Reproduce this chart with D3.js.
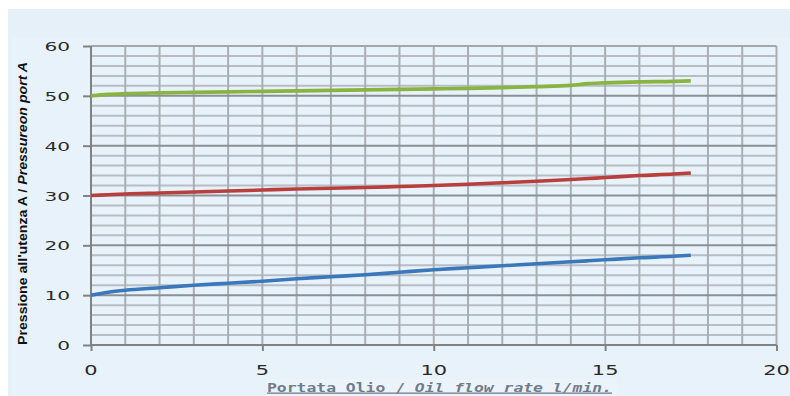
<!DOCTYPE html>
<html><head><meta charset="utf-8">
<script src="https://cdn.jsdelivr.net/npm/d3@7/dist/d3.min.js"></script>
<style>body{margin:0;background:#fff}svg{display:block}</style>
</head><body><svg id="c" width="790" height="396"></svg>
<script>
const xTicks = [0, 5, 10, 15, 20];
const yTicks = [0, 10, 20, 30, 40, 50, 60];
const flow = [0, 0.5, 1, 2, 3, 4, 5, 6, 7, 8, 9, 10, 11, 12, 13, 14, 14.5, 15, 16, 17, 17.5];
const seriesGreen = [50.0, 50.3, 50.45, 50.6, 50.7, 50.8, 50.9, 51.0, 51.1, 51.2, 51.3, 51.4, 51.5, 51.65, 51.85, 52.1, 52.45, 52.6, 52.8, 52.9, 53.0];
const seriesRed = [30.0, 30.15, 30.3, 30.5, 30.7, 30.9, 31.1, 31.3, 31.45, 31.6, 31.8, 32.0, 32.25, 32.55, 32.85, 33.2, 33.4, 33.6, 34.0, 34.3, 34.5];
const seriesBlue = [10.0, 10.6, 11.0, 11.5, 12.0, 12.4, 12.8, 13.3, 13.7, 14.1, 14.6, 15.1, 15.5, 15.9, 16.3, 16.7, 16.9, 17.1, 17.5, 17.8, 18.0];
const seriesNames = ["green", "red", "blue"];
const seriesColors = ["#8ab441", "#b93f3d", "#3b77bb"];
const yTitleIt = "Pressione all'utenza A / ";
const yTitleEn = "Pressureon port A";
const xTitleIt = "Portata Olio / ";
const xTitleEn = "Oil flow rate l/min.";

const svg = d3.select("#c");
svg.append("rect").attr("x", 8).attr("y", 9).attr("width", 782).attr("height", 387).attr("fill", "#e6f0f9");
svg.append("rect").attr("x", 12).attr("y", 37).attr("width", 778).attr("height", 359).attr("fill", "#e8f2fb");
svg.append("rect").attr("x", 267).attr("y", 379).attr("width", 350).attr("height", 17).attr("fill", "#ecf4fb");

const x = d3.scaleLinear().domain([0, 20]).range([91, 776.5]);
const y = d3.scaleLinear().domain([0, 60]).range([345, 46]);

// grid
const g = svg.append("g");
g.selectAll("line.h").data(d3.range(2, 60, 2).filter(v => v % 10 !== 0)).join("line")
  .attr("x1", x(0)).attr("x2", x(20)).attr("y1", d => y(d)).attr("y2", d => y(d))
  .attr("stroke", "#b7bdc3").attr("stroke-width", 2);
g.selectAll("line.v").data(d3.range(1, 21)).join("line")
  .attr("x1", d => x(d)).attr("x2", d => x(d)).attr("y1", y(60)).attr("y2", y(0))
  .attr("stroke", "#a9aeb3").attr("stroke-width", 2);
g.selectAll("line.hm").data([10, 20, 30, 40, 50, 60]).join("line")
  .attr("x1", x(0)).attr("x2", x(20)).attr("y1", d => y(d)).attr("y2", d => y(d))
  .attr("stroke", d => d === 60 ? "#a3a8ad" : "#8b9095").attr("stroke-width", 2);

// axes
const yAxis = svg.append("g").attr("transform", `translate(${x(0)},0)`)
  .call(d3.axisLeft(y).tickValues(yTicks).tickSize(8).tickFormat(""));
const xAxis = svg.append("g").attr("transform", `translate(0,${y(0)})`)
  .call(d3.axisBottom(x).tickValues(xTicks).tickSize(6).tickFormat(""));
[yAxis, xAxis].forEach(a => { a.selectAll("path,line").attr("stroke", "#828282").attr("stroke-width", 2); });
yAxis.select("path").attr("d", `M0,${y(60)}V${y(0)}`);
xAxis.select("path").attr("d", `M${x(0)},0H${x(20)}`);

// tick labels (stretched like the source)
svg.append("g").selectAll("text").data(yTicks).join("text")
  .attr("transform", d => `translate(70,${y(d) + 5}) scale(1.55,1)`)
  .attr("text-anchor", "end").attr("font-family", "DejaVu Sans").attr("font-size", 13)
  .attr("fill", "#2a2a2a").text(d => d);
svg.append("g").selectAll("text").data(xTicks).join("text")
  .attr("transform", d => `translate(${x(d)},${374.5}) scale(1.55,1)`)
  .attr("text-anchor", "middle").attr("font-family", "DejaVu Sans").attr("font-size", 13.5)
  .attr("fill", "#2a2a2a").text(d => d);

// lines
const line = d3.line().x(d => x(d[0])).y(d => y(d[1])).curve(d3.curveMonotoneX);
[seriesGreen, seriesRed, seriesBlue].forEach((s, i) => {
  svg.append("path").datum(flow.map((f, j) => [f, s[j]]))
    .attr("class", seriesNames[i])
    .attr("d", line).attr("fill", "none").attr("stroke", seriesColors[i])
    .attr("stroke-width", 3.6).attr("stroke-linejoin", "round");
});

// y title
const yt = svg.append("text").attr("transform", "translate(27,345) rotate(-90)")
  .attr("font-family", "Liberation Sans Narrow, Liberation Sans, Arial").attr("font-weight", "bold")
  .attr("font-size", 13).attr("fill", "#111").attr("textLength", 283).attr("lengthAdjust", "spacingAndGlyphs");
yt.append("tspan").text(yTitleIt);
yt.append("tspan").attr("font-style", "italic").text(yTitleEn);

// x title
const xt = svg.append("text").attr("x", 267).attr("y", 391.5)
  .attr("font-family", "DejaVu Sans Mono").attr("font-weight", "bold")
  .attr("font-size", 13).attr("fill", "#6f7d8b").attr("text-decoration", "underline")
  .attr("textLength", 345).attr("lengthAdjust", "spacingAndGlyphs");
xt.append("tspan").text(xTitleIt);
xt.append("tspan").attr("font-style", "italic").text(xTitleEn);
</script></body></html>
